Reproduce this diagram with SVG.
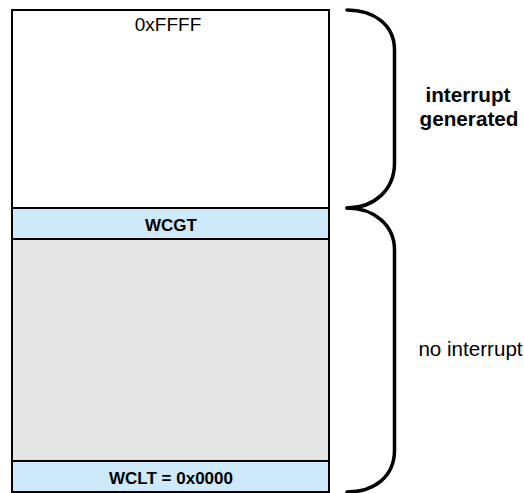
<svg xmlns="http://www.w3.org/2000/svg" width="524" height="493" viewBox="0 0 524 493">
<style>
.box{stroke:#000;stroke-width:2}
.brace{fill:none;stroke:#000;stroke-width:3.5;stroke-linecap:round;stroke-linejoin:round}
text{font-family:"Liberation Sans",Arial,Helvetica,sans-serif;fill:#000;text-anchor:middle}
.b{font-weight:bold}
</style>
<rect width="524" height="493" fill="#fff"/>
<g id="top-region">
<rect class="box" x="12" y="10" width="317" height="198" fill="#fff"/>
<text x="168" y="30.5" font-size="19">0xFFFF</text>
</g>
<g id="wcgt">
<rect class="box" x="12" y="208" width="317" height="31" fill="#cde9fa"/>
<text class="b" x="171" y="230.5" font-size="17">WCGT</text>
</g>
<g id="gray-region">
<rect class="box" x="12" y="239" width="317" height="222" fill="#e5e5e5"/>
</g>
<g id="wclt">
<rect class="box" x="12" y="461" width="317" height="31" fill="#cde9fa"/>
<text class="b" x="171" y="483.5" font-size="17">WCLT = 0x0000</text>
</g>
<g id="connectors">
<path class="brace" d="M347,10 C374,10 394.5,25 394.5,50 L394.5,163 C394.5,190 374,208 347,208"/>
<path class="brace" d="M347,208 C374,208 394.5,225 394.5,250 L394.5,450 C394.5,477 374,492 347,492"/>
</g>
<g id="label-interrupt">
<text class="b" x="468" y="102.3" font-size="20.7">interrupt</text>
<text class="b" x="469" y="125.7" font-size="20.7">generated</text>
</g>
<g id="label-no-interrupt">
<text x="470.5" y="356" font-size="20.6">no interrupt</text>
</g>
</svg>
